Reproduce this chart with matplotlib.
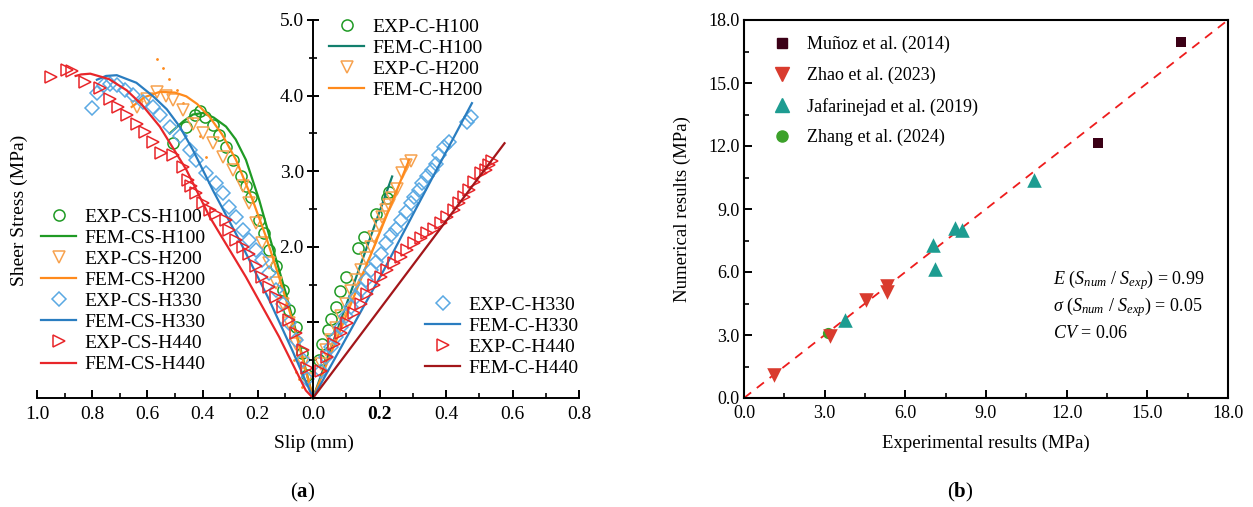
import matplotlib
matplotlib.use("Agg")
import matplotlib.pyplot as plt
from matplotlib.lines import Line2D
from matplotlib.ticker import MultipleLocator, FormatStrFormatter

plt.rcParams['font.family'] = ['Liberation Serif', 'DejaVu Serif']
plt.rcParams['mathtext.fontset'] = 'custom'
plt.rcParams['mathtext.rm'] = 'Liberation Serif'
plt.rcParams['mathtext.it'] = 'Liberation Serif:italic'
plt.rcParams['mathtext.bf'] = 'Liberation Serif:bold'

# ---------------- (a) CS series (slip plotted to the left) ----------------
fem_cs_h100_x = [0, 0.05, 0.098, 0.147, 0.195, 0.243, 0.28, 0.315, 0.36, 0.399, 0.435, 0.47, 0.519]
fem_cs_h100_y = [0, 0.72, 1.38, 2.0, 2.62, 3.15, 3.42, 3.59, 3.71, 3.77, 3.75, 3.66, 3.50]
fem_cs_h200_x = [0, 0.075, 0.123, 0.17, 0.219, 0.279, 0.33, 0.375, 0.42, 0.459, 0.5, 0.555, 0.61, 0.657]
fem_cs_h200_y = [0, 1.03, 1.60, 2.13, 2.62, 3.15, 3.49, 3.72, 3.89, 3.99, 4.04, 4.05, 3.98, 3.85]
fem_cs_h330_x = [0, 0.075, 0.159, 0.267, 0.363, 0.435, 0.483, 0.53, 0.579, 0.64, 0.711, 0.75, 0.783]
fem_cs_h330_y = [0, 0.63, 1.30, 2.09, 2.75, 3.28, 3.59, 3.82, 3.99, 4.17, 4.27, 4.26, 4.21]
fem_cs_h440_x = [0, 0.026, 0.123, 0.243, 0.375, 0.459, 0.555, 0.62, 0.675, 0.74, 0.807, 0.84, 0.86]
fem_cs_h440_y = [0, 0.10, 0.81, 1.60, 2.40, 3.02, 3.59, 3.88, 4.07, 4.22, 4.29, 4.28, 4.26]

exp_cs_h100_x = [0.507, 0.459, 0.429, 0.411, 0.393, 0.363, 0.339, 0.315, 0.291, 0.261, 0.243,
                 0.225, 0.195, 0.177, 0.159, 0.134, 0.11, 0.087, 0.062, 0.04, 0.02]
exp_cs_h100_y = [3.37, 3.59, 3.74, 3.79, 3.72, 3.61, 3.48, 3.32, 3.15, 2.93, 2.80,
                 2.66, 2.35, 2.18, 1.96, 1.74, 1.43, 1.16, 0.94, 0.6, 0.3]
exp_cs_h200_x = [0.639, 0.6, 0.567, 0.531, 0.507, 0.471, 0.435, 0.399, 0.363, 0.327, 0.291, 0.255,
                 0.231, 0.207, 0.183, 0.159, 0.134, 0.11, 0.087, 0.062, 0.038, 0.02]
exp_cs_h200_y = [3.85, 3.95, 4.05, 4.0, 3.94, 3.81, 3.63, 3.5, 3.37, 3.19, 3.02, 2.8,
                 2.58, 2.31, 2.05, 1.78, 1.52, 1.25, 0.99, 0.72, 0.46, 0.25]
exp_cs_h200_dot_x = [0.567, 0.545, 0.52, 0.494, 0.47, 0.44, 0.411, 0.387, 0.07, 0.06, 0.05, 0.04]
exp_cs_h200_dot_y = [4.49, 4.37, 4.22, 4.07, 3.9, 3.7, 3.46, 3.19, 0.5, 0.35, 0.25, 0.15]
exp_cs_h330_x = [0.801, 0.783, 0.759, 0.735, 0.711, 0.681, 0.651, 0.615, 0.579, 0.555, 0.519,
                 0.483, 0.447, 0.423, 0.387, 0.351, 0.327, 0.303, 0.279, 0.255, 0.231, 0.207,
                 0.183, 0.159, 0.134, 0.11, 0.087, 0.062, 0.038, 0.02]
exp_cs_h330_y = [3.83, 4.03, 4.14, 4.16, 4.14, 4.07, 4.01, 3.92, 3.85, 3.74, 3.59,
                 3.46, 3.28, 3.15, 2.97, 2.84, 2.71, 2.53, 2.40, 2.22, 2.09, 1.96,
                 1.83, 1.65, 1.43, 1.25, 0.99, 0.77, 0.5, 0.25]
exp_cs_h440_x = [0.951, 0.891, 0.873, 0.825, 0.771, 0.735, 0.705, 0.675, 0.639, 0.609, 0.579,
                 0.549, 0.507, 0.471, 0.453, 0.441, 0.423, 0.399, 0.375, 0.351, 0.315, 0.303,
                 0.279, 0.255, 0.231, 0.207, 0.183, 0.159, 0.134, 0.11, 0.087, 0.062, 0.038, 0.02]
exp_cs_h440_y = [4.25, 4.34, 4.32, 4.18, 4.10, 3.96, 3.85, 3.74, 3.63, 3.52, 3.39,
                 3.24, 3.21, 3.06, 2.88, 2.80, 2.71, 2.58, 2.49, 2.44, 2.35, 2.22,
                 2.09, 2.0, 1.91, 1.74, 1.60, 1.47, 1.34, 1.21, 1.03, 0.86, 0.63, 0.4]

# ---------------- (a) C series (slip plotted to the right) ----------------
fem_c_h100_x = [0, 0.238]
fem_c_h100_y = [0, 2.93]
fem_c_h200_x = [0, 0.289]
fem_c_h200_y = [0, 3.15]
fem_c_h330_x = [0, 0.214, 0.308, 0.478]
fem_c_h330_y = [0, 1.70, 2.49, 3.90]
fem_c_h440_x = [0, 0.576]
fem_c_h440_y = [0, 3.37]

exp_c_h100_x = [0.229, 0.224, 0.189, 0.153, 0.135, 0.098, 0.081, 0.068, 0.053, 0.045, 0.028, 0.018]
exp_c_h100_y = [2.73, 2.65, 2.44, 2.13, 1.98, 1.60, 1.41, 1.21, 1.05, 0.90, 0.72, 0.5]
exp_c_h200_x = [0.294, 0.279, 0.269, 0.254, 0.238, 0.229, 0.219, 0.208, 0.198, 0.183, 0.173,
                0.158, 0.143, 0.128, 0.113, 0.098, 0.083, 0.068, 0.053, 0.038, 0.023]
exp_c_h200_y = [3.13, 3.08, 2.97, 2.77, 2.64, 2.55, 2.49, 2.40, 2.29, 2.13, 2.0,
                1.85, 1.69, 1.56, 1.41, 1.25, 1.08, 0.92, 0.77, 0.63, 0.45]
exp_c_h330_x = [0.474, 0.464, 0.409, 0.394, 0.379, 0.369, 0.359, 0.344, 0.329, 0.319, 0.304,
                0.294, 0.279, 0.264, 0.249, 0.234, 0.219, 0.204, 0.189, 0.173, 0.158, 0.143,
                0.128, 0.113, 0.098, 0.083, 0.068, 0.053, 0.038, 0.023]
exp_c_h330_y = [3.72, 3.65, 3.39, 3.32, 3.21, 3.10, 3.02, 2.93, 2.84, 2.75, 2.66,
                2.58, 2.46, 2.35, 2.24, 2.16, 2.05, 1.91, 1.80, 1.69, 1.56, 1.43,
                1.34, 1.21, 1.08, 0.94, 0.81, 0.68, 0.54, 0.36]
exp_c_h440_x = [0.539, 0.529, 0.519, 0.504, 0.484, 0.469, 0.454, 0.439, 0.424, 0.404, 0.384,
                0.364, 0.344, 0.324, 0.304, 0.284, 0.264, 0.244, 0.224, 0.204, 0.183, 0.163,
                0.143, 0.123, 0.103, 0.083, 0.063, 0.043, 0.023]
exp_c_h440_y = [3.13, 3.08, 3.02, 2.97, 2.86, 2.75, 2.66, 2.58, 2.49, 2.40, 2.31,
                2.24, 2.18, 2.11, 2.05, 1.96, 1.87, 1.78, 1.69, 1.60, 1.49, 1.38,
                1.25, 1.12, 0.99, 0.86, 0.72, 0.54, 0.36]

# ---------------- (b) comparison ----------------
munoz_exp = [16.27, 13.17]
munoz_num = [16.97, 12.16]
zhao_exp = [1.12, 3.2, 4.53, 5.30, 5.33]
zhao_num = [1.11, 2.93, 4.68, 5.31, 5.07]
jafari_exp = [3.75, 7.04, 7.10, 7.84, 8.09, 10.80]
jafari_num = [3.72, 7.29, 6.14, 8.09, 8.0, 10.39]
zhang_exp = [3.11]
zhang_num = [3.09]

green = '#1f9a24'
teal = '#127f6d'
orange = '#ff8a1c'
orange_l = '#f7a24e'
blue = '#2a7dc0'
blue_l = '#5aa9e3'
red = '#e8262a'
dred = '#a3161a'

W, H = 1253, 507
fig = plt.figure(figsize=(W / 100, H / 100), dpi=100)

def fx(p):
    return p / W

def fy(p):
    return 1 - p / H

ax_l = fig.add_axes([fx(37), fy(398), fx(313 - 37), (398 - 20) / H])
ax_r = fig.add_axes([fx(313), fy(398), fx(579 - 313), (398 - 20) / H])
for a in (ax_l, ax_r):
    a.patch.set_visible(False)
    a.set_ylim(0, 5)
    for s in ('top', 'right'):
        a.spines[s].set_visible(False)
    a.spines['bottom'].set_linewidth(1.4)
    a.spines['left'].set_linewidth(1.4)
ax_l.set_xlim(1.0, 0.0)
ax_r.set_xlim(0.0, 0.8)
ax_l.spines['left'].set_visible(False)
ax_l.tick_params(axis='y', left=False, labelleft=False)

fs_a = 14
ax_l.xaxis.set_major_locator(MultipleLocator(0.2))
ax_l.xaxis.set_minor_locator(MultipleLocator(0.1))
ax_l.xaxis.set_major_formatter(FormatStrFormatter('%.1f'))
ax_r.set_xticks([0.0, 0.2, 0.4, 0.6, 0.8], ['', '0.2', '0.4', '0.6', '0.8'])
ax_r.get_xticklabels()[1].set_fontweight('bold')
ax_r.xaxis.set_minor_locator(MultipleLocator(0.1))
for a in (ax_l, ax_r):
    a.tick_params(axis='x', which='major', direction='in', length=6, width=1.4, labelsize=fs_a, pad=6)
    a.tick_params(axis='x', which='minor', direction='in', length=3.5, width=1.2)
ax_r.set_yticks([0, 1, 2, 3, 4, 5], ['', '', '2.0', '3.0', '4.0', '5.0'])
ax_r.yaxis.set_minor_locator(MultipleLocator(0.5))
ax_r.tick_params(axis='y', which='major', direction='inout', length=9, width=1.4, labelsize=fs_a, pad=2)
ax_r.tick_params(axis='y', which='minor', direction='inout', length=6, width=1.2)

mk = dict(linestyle='none', markerfacecolor='none', markeredgewidth=1.1, clip_on=False)
lw = 1.6

# CS side
e1, = ax_l.plot(exp_cs_h100_x, exp_cs_h100_y, marker='o', markersize=8, markeredgecolor=green, label='EXP-CS-H100', **mk)
f1, = ax_l.plot(fem_cs_h100_x, fem_cs_h100_y, color=green, lw=lw, label='FEM-CS-H100', clip_on=False)
ax_l.plot(exp_cs_h200_dot_x, exp_cs_h200_dot_y, linestyle='none', marker='.', markersize=2, color=orange, clip_on=False)
e2, = ax_l.plot(exp_cs_h200_x, exp_cs_h200_y, marker='v', markersize=9, markeredgecolor=orange_l, label='EXP-CS-H200', **mk)
f2, = ax_l.plot(fem_cs_h200_x, fem_cs_h200_y, color=orange, lw=lw, label='FEM-CS-H200', clip_on=False)
e3, = ax_l.plot(exp_cs_h330_x, exp_cs_h330_y, marker='D', markersize=7, markeredgecolor=blue_l, label='EXP-CS-H330', **mk)
f3, = ax_l.plot(fem_cs_h330_x, fem_cs_h330_y, color=blue, lw=lw, label='FEM-CS-H330', clip_on=False)
e4, = ax_l.plot(exp_cs_h440_x, exp_cs_h440_y, marker='>', markersize=9, markeredgecolor=red, label='EXP-CS-H440', **mk)
f4, = ax_l.plot(fem_cs_h440_x, fem_cs_h440_y, color=red, lw=lw, label='FEM-CS-H440', clip_on=False)

# C side
g1, = ax_r.plot(exp_c_h100_x, exp_c_h100_y, marker='o', markersize=8, markeredgecolor=green, label='EXP-C-H100', **mk)
h1, = ax_r.plot(fem_c_h100_x, fem_c_h100_y, color=teal, lw=lw, label='FEM-C-H100', clip_on=False)
g2, = ax_r.plot(exp_c_h200_x, exp_c_h200_y, marker='v', markersize=9, markeredgecolor=orange_l, label='EXP-C-H200', **mk)
h2, = ax_r.plot(fem_c_h200_x, fem_c_h200_y, color=orange, lw=lw, label='FEM-C-H200', clip_on=False)
g3, = ax_r.plot(exp_c_h330_x, exp_c_h330_y, marker='D', markersize=7, markeredgecolor=blue_l, label='EXP-C-H330', **mk)
h3, = ax_r.plot(fem_c_h330_x, fem_c_h330_y, color=blue, lw=lw, label='FEM-C-H330', clip_on=False)
g4, = ax_r.plot(exp_c_h440_x, exp_c_h440_y, marker='>', markersize=9, markeredgecolor=red, label='EXP-C-H440', **mk)
h4, = ax_r.plot(fem_c_h440_x, fem_c_h440_y, color=dred, lw=lw, label='FEM-C-H440', clip_on=False)

leg_kw = dict(frameon=False, fontsize=fs_a, handlelength=1.8, handletextpad=0.45,
              labelspacing=0.18, borderpad=0, borderaxespad=0, loc='upper left')
fig.legend(handles=[e1, f1, e2, f2, e3, f3, e4, f4], bbox_to_anchor=(fx(41), fy(208)), **leg_kw)
fig.legend(handles=[g1, h1, g2, h2], bbox_to_anchor=(fx(329), fy(18)), **leg_kw)
fig.legend(handles=[g3, h3, g4, h4], bbox_to_anchor=(fx(425), fy(296)), **leg_kw)

fig.text(fx(19), fy(210), 'Sheer Stress (MPa)', rotation=90, ha='center', va='center', fontsize=fs_a)
fig.text(fx(314), fy(443), 'Slip (mm)', ha='center', va='center', fontsize=fs_a)
fig.text(fx(303), fy(492), r'($\mathbf{a}$)', ha='center', va='center', fontsize=15)

# ---------------- panel (b) ----------------
fs_b = 13
ax_b = fig.add_axes([fx(744), fy(398), fx(1228 - 744), (398 - 20) / H])
ax_b.set_xlim(0, 18)
ax_b.set_ylim(0, 18)
for s in ax_b.spines.values():
    s.set_linewidth(1.5)
ax_b.xaxis.set_major_locator(MultipleLocator(3))
ax_b.xaxis.set_minor_locator(MultipleLocator(1.5))
ax_b.yaxis.set_major_locator(MultipleLocator(3))
ax_b.yaxis.set_minor_locator(MultipleLocator(1.5))
ax_b.xaxis.set_major_formatter(FormatStrFormatter('%.1f'))
ax_b.yaxis.set_major_formatter(FormatStrFormatter('%.1f'))
ax_b.tick_params(which='major', direction='in', length=6, width=1.4, labelsize=fs_b, pad=3)
ax_b.tick_params(axis='x', which='major', pad=5)
ax_b.tick_params(which='minor', direction='in', length=3.5, width=1.2)

ax_b.plot([0, 18], [0, 18], color='#ee1c1c', lw=1.3, dashes=(5, 4), zorder=1)
ax_b.scatter(munoz_exp, munoz_num, marker='s', s=55, color='#3b0016', zorder=3, linewidths=0)
ax_b.scatter(zhao_exp, zhao_num, marker='v', s=110, color='#d93b2e', zorder=3, linewidths=0)
ax_b.scatter(jafari_exp, jafari_num, marker='^', s=110, color='#1d9c91', zorder=3, linewidths=0)
ax_b.scatter(zhang_exp, zhang_num, marker='o', s=65, color='#3ca12a', zorder=2, linewidths=0)

hb = [Line2D([], [], linestyle='none', marker='s', markersize=7.5, color='#3b0016'),
      Line2D([], [], linestyle='none', marker='v', markersize=10, color='#d93b2e'),
      Line2D([], [], linestyle='none', marker='^', markersize=10, color='#1d9c91'),
      Line2D([], [], linestyle='none', marker='o', markersize=8, color='#3ca12a')]
fig.legend(hb, ['Muñoz et al. (2014)', 'Zhao et al. (2023)', 'Jafarinejad et al. (2019)', 'Zhang et al. (2024)'],
           frameon=False, fontsize=fs_b, handlelength=1.0, handletextpad=0.9, labelspacing=0.75,
           borderpad=0, borderaxespad=0, loc='upper left', bbox_to_anchor=(fx(773), fy(36)))

fig.text(fx(1053), fy(280), r'$E$ ($S_{num}$ / $S_{exp}$) = 0.99', ha='left', va='center', fontsize=fs_b)
fig.text(fx(1053), fy(307), r'$\sigma$ ($S_{num}$ / $S_{exp}$) = 0.05', ha='left', va='center', fontsize=fs_b)
fig.text(fx(1053), fy(334), r'$CV$ = 0.06', ha='left', va='center', fontsize=fs_b)

fig.text(fx(682), fy(209), 'Numerical results (MPa)', rotation=90, ha='center', va='center', fontsize=fs_b + 0.5)
fig.text(fx(986), fy(443), 'Experimental results (MPa)', ha='center', va='center', fontsize=fs_b + 0.5)
fig.text(fx(960), fy(492), r'($\mathbf{b}$)', ha='center', va='center', fontsize=15)

fig.savefig('out.png', dpi=100)
